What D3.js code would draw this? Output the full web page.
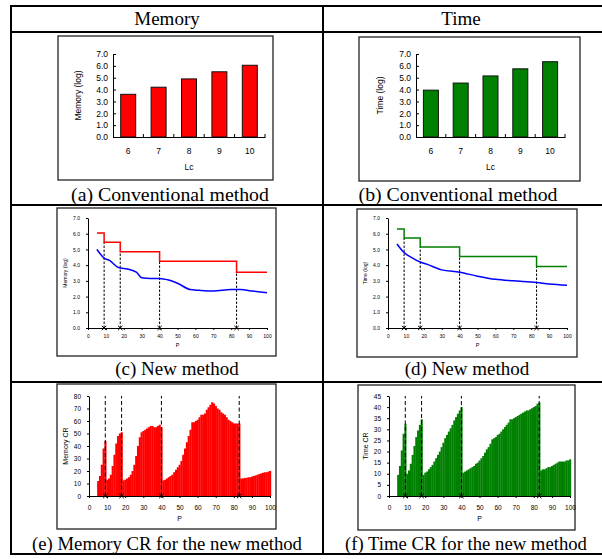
<!DOCTYPE html>
<html>
<head>
<meta charset="utf-8">
<script src="https://cdn.jsdelivr.net/npm/d3@7"></script>
<style>
body { margin: 0; background: #fff; }
</style>
</head>
<body>
<div id="chart"></div>
<script>
// ---- data ----
var lcValues = [6, 7, 8, 9, 10];
var memConv = [3.6, 4.2, 4.9, 5.5, 6.05];
var timeConv = [3.95, 4.55, 5.15, 5.75, 6.35];

var splitP = [9, 18, 40, 83];
var stepP = [5, 9, 18, 40, 83, 100];
var memStep = [6.05, 5.45, 4.85, 4.25, 3.55, 3.55];
var timeStep = [6.3, 5.72, 5.15, 4.55, 3.92, 3.92];

var memCurveP = [5, 9, 12, 17, 22, 27, 30, 35, 40, 45, 50, 57, 62, 70, 80, 85, 92, 100];
var memCurve = [5.0, 4.45, 4.3, 3.85, 3.75, 3.55, 3.2, 3.15, 3.15, 3.05, 2.85, 2.45, 2.4, 2.35, 2.45, 2.45, 2.35, 2.25];
var timeCurveP = [5, 9, 13, 18, 22, 30, 40, 50, 60, 70, 83, 90, 100];
var timeCurve = [5.35, 4.8, 4.5, 4.2, 4.05, 3.7, 3.55, 3.3, 3.1, 3.0, 2.9, 2.8, 2.72];

var crP = d3.range(5, 101); // P = 5 .. 100
var memCR = [12, 16, 25, 38, 44,
  13, 14, 17, 24, 33, 42, 48, 50, 51,
  12.5, 13, 14, 15, 17, 20, 25, 32, 40, 47, 51, 52, 53, 54, 55, 56, 56, 55, 55, 56, 57, 55,
  12.5, 13, 14, 15, 16, 17, 19, 21, 23, 25,
  28, 33, 38, 43, 48, 53, 59, 59, 60, 61,
  63, 65, 65, 66, 69, 71, 73, 75, 74, 72,
  70, 69, 67, 66, 65, 63, 61, 60, 59, 58,
  58, 58, 58,
  14, 14, 14.5, 14.5, 15, 15, 15.5, 16, 16.5, 17, 17.5, 18, 18.5, 19, 19, 19.5, 20];
var timeCR = [9.5, 13.5, 20.5, 28, 32.5,
  10, 11.5, 14.5, 18.5, 22.5, 26.5, 29.5, 32, 34.5,
  9.5, 10.5, 11, 12, 13, 14, 15.5, 17, 18.5, 20, 22, 24, 26, 27.5, 29, 30.5, 32, 34, 35.5, 37, 38.5, 40,
  10.5, 11, 11.5, 12, 12.5, 13, 13.5, 14.5, 15, 16,
  17, 18, 19.5, 21, 22, 23.5, 25.5, 26, 26.5, 27.5,
  28, 29, 30, 31, 32, 33, 34.5, 34.5, 35, 35.5,
  36, 36.5, 37, 37.5, 38, 38.5, 38.5, 39, 39.5, 40,
  40.5, 41.5, 42,
  11.5, 12, 12, 12.5, 13, 13, 13.5, 14, 14.5, 15, 15.5, 15.5, 15.5, 15.5, 16, 16, 16.5];

var headers = ["Memory", "Time"];
var captions = ["(a) Conventional method", "(b) Conventional method",
  "(c) New method", "(d) New method",
  "(e) Memory CR for the new method", "(f) Time CR for the new method"];

// ---- page ----
var W = 602, H = 559;
var sans = "'Liberation Sans', Arial, sans-serif";
var serif = "'Liberation Serif', 'Times New Roman', serif";

var svg = d3.select("#chart").append("svg")
  .attr("width", W).attr("height", H);

// table grid
var tbl = { left: 11, right: 603, mid: 323, rows: [6, 32, 205, 382, 554] };
var grid = svg.append("g").attr("stroke", "#000").attr("stroke-width", 2);
tbl.rows.forEach(function (y) {
  grid.append("line").attr("x1", tbl.left - 1).attr("x2", tbl.right).attr("y1", y).attr("y2", y);
});
[tbl.left, tbl.mid, tbl.right].forEach(function (x) {
  grid.append("line").attr("x1", x).attr("x2", x).attr("y1", tbl.rows[0]).attr("y2", tbl.rows[4]);
});

svg.selectAll(".hdr").data(headers).enter().append("text")
  .attr("x", function (d, i) { return i ? 461 : 167; })
  .attr("y", 25)
  .attr("text-anchor", "middle")
  .style("font-family", serif).style("font-size", "19px")
  .text(function (d) { return d; });

// x, baseline, font size
var capPos = [[170, 201, 19.8], [458, 201, 19.8], [177, 375, 19], [467, 375, 19],
  [167, 550, 18.7], [466, 550, 18.7]];
svg.selectAll(".cap").data(captions).enter().append("text")
  .attr("x", function (d, i) { return capPos[i][0]; })
  .attr("y", function (d, i) { return capPos[i][1]; })
  .attr("text-anchor", "middle")
  .style("font-family", serif)
  .style("font-size", function (d, i) { return capPos[i][2] + "px"; })
  .text(function (d) { return d; });

function frame(x0, y0, x1, y1) {
  svg.append("rect")
    .attr("x", x0).attr("y", y0).attr("width", x1 - x0).attr("height", y1 - y0)
    .attr("fill", "#fff").attr("stroke", "#222").attr("stroke-width", 1.3);
}

function styleAxis(g, fs) {
  g.select(".domain").attr("stroke", "#000");
  g.selectAll(".tick line").attr("stroke", "#000");
  g.selectAll("text").style("font-family", sans).style("font-size", fs + "px").attr("fill", "#000");
}

function yTitle(x, y, txt, fs) {
  svg.append("text")
    .attr("transform", "translate(" + x + "," + y + ") rotate(-90)")
    .attr("text-anchor", "middle")
    .style("font-family", sans).style("font-size", fs + "px")
    .text(txt);
}

function xTitle(x, y, txt, fs) {
  svg.append("text").attr("x", x).attr("y", y).attr("text-anchor", "middle")
    .style("font-family", sans).style("font-size", fs + "px").text(txt);
}

// ---- (a)/(b) conventional bars ----
function barPanel(o) {
  frame(o.frame[0], o.frame[1], o.frame[2], o.frame[3]);
  var x = d3.scaleBand().domain(lcValues).range(o.xr);
  var y = d3.scaleLinear().domain([0, 7]).range(o.yr);
  var g = svg.append("g");

  g.selectAll("rect.bar").data(o.values).enter().append("rect")
    .attr("class", "bar")
    .attr("x", function (d, i) { return x(lcValues[i]) + x.bandwidth() / 2 - 7.5; })
    .attr("width", 15)
    .attr("y", function (d) { return y(d); })
    .attr("height", function (d) { return y(0) - y(d); })
    .attr("fill", o.color).attr("stroke", "#111").attr("stroke-width", 1);

  var ya = g.append("g").attr("transform", "translate(" + o.xr[0] + ",0)")
    .call(d3.axisLeft(y).tickValues(d3.range(0, 7.5, 1)).tickFormat(d3.format(".1f"))
      .tickSizeInner(-3).tickSizeOuter(0).tickPadding(5));
  styleAxis(ya, 8.5);

  var xa = g.append("g").attr("transform", "translate(0," + o.yr[0] + ")")
    .call(d3.axisBottom(x).tickSize(0).tickPadding(11));
  styleAxis(xa, 8.5);
  // small boundary ticks
  g.selectAll("line.bt").data(lcValues.slice(1).concat(["end"])).enter().append("line")
    .attr("x1", function (d) { return d === "end" ? o.xr[1] : x(d); })
    .attr("x2", function (d) { return d === "end" ? o.xr[1] : x(d); })
    .attr("y1", o.yr[0]).attr("y2", o.yr[0] - 3).attr("stroke", "#000");

  yTitle(o.ytx, (o.yr[0] + o.yr[1]) / 2, o.ylabel, 8.5);
  xTitle((o.xr[0] + o.xr[1]) / 2, o.yr[0] + 33, "Lc", 8.5);
}

barPanel({ frame: [58, 36, 273, 180], xr: [113, 265], yr: [137, 54], values: memConv,
  color: "#ff0000", ylabel: "Memory (log)", ytx: 81 });
barPanel({ frame: [359, 37, 580, 181], xr: [416, 565], yr: [137, 54], values: timeConv,
  color: "#008000", ylabel: "Time (log)", ytx: 383 });

// ---- (c)/(d) new method lines ----
function xMarks(g, x, y0) {
  g.selectAll("path.mk").data(splitP).enter().append("path")
    .attr("d", d3.symbol(d3.symbolX, 14))
    .attr("transform", function (d) { return "translate(" + x(d) + "," + y0 + ")"; })
    .attr("stroke", "#000").attr("stroke-width", 1).attr("fill", "none");
}

function linePanel(o) {
  frame(o.frame[0], o.frame[1], o.frame[2], o.frame[3]);
  var x = d3.scaleLinear().domain([0, 100]).range(o.xr);
  var y = d3.scaleLinear().domain([0, 7]).range(o.yr);
  var g = svg.append("g");

  var ya = g.append("g").attr("transform", "translate(" + o.xr[0] + ",0)")
    .call(d3.axisLeft(y).tickValues(d3.range(0, 7.5, 1)).tickFormat(d3.format(".1f"))
      .tickSizeInner(2).tickSizeOuter(0).tickPadding(6));
  styleAxis(ya, 5);
  var xa = g.append("g").attr("transform", "translate(0," + o.yr[0] + ")")
    .call(d3.axisBottom(x).tickValues(d3.range(0, 101, 10)).tickSizeInner(2).tickSizeOuter(0).tickPadding(4));
  styleAxis(xa, 5);

  // dashed split lines up to the new step level
  g.selectAll("line.sp").data(splitP).enter().append("line")
    .attr("x1", function (d) { return x(d); }).attr("x2", function (d) { return x(d); })
    .attr("y1", y(0))
    .attr("y2", function (d) { return y(o.step[stepP.indexOf(d)]); })
    .attr("stroke", "#000").attr("stroke-width", 1).attr("stroke-dasharray", "2.5,1.5");

  var stepLine = d3.line().curve(d3.curveStepAfter)
    .x(function (d, i) { return x(stepP[i]); }).y(function (d) { return y(d); });
  g.append("path").attr("d", stepLine(o.step))
    .attr("fill", "none").attr("stroke", o.color).attr("stroke-width", 1.5);

  var curve = d3.line().curve(d3.curveMonotoneX)
    .x(function (d, i) { return x(o.curveP[i]); }).y(function (d) { return y(d); });
  g.append("path").attr("d", curve(o.curve))
    .attr("fill", "none").attr("stroke", "#0000ff").attr("stroke-width", 1.5);

  xMarks(g, x, y(0));
  yTitle(o.ytx, (o.yr[0] + o.yr[1]) / 2, o.ylabel, 5);
  xTitle((o.xr[0] + o.xr[1]) / 2, o.yr[0] + 19, "P", 5.5);
}

linePanel({ frame: [57, 208, 276, 356], xr: [88, 267], yr: [328, 218], step: memStep,
  color: "#ff0000", curveP: memCurveP, curve: memCurve, ylabel: "Memory (log)", ytx: 67 });
linePanel({ frame: [357, 209, 577, 357], xr: [388, 567], yr: [328, 218], step: timeStep,
  color: "#008000", curveP: timeCurveP, curve: timeCurve, ylabel: "Time (log)", ytx: 367 });

// ---- (e)/(f) compression ratio bars ----
function crPanel(o) {
  frame(o.frame[0], o.frame[1], o.frame[2], o.frame[3]);
  var x = d3.scaleLinear().domain([0, 100]).range(o.xr);
  var y = d3.scaleLinear().domain([0, o.ymax]).range(o.yr);
  var g = svg.append("g");

  g.selectAll("rect.cr").data(o.values).enter().append("rect")
    .attr("x", function (d, i) { return x(crP[i] - 0.5); })
    .attr("width", x(1) - x(0) + 0.3)
    .attr("y", function (d) { return y(d); })
    .attr("height", function (d) { return y(0) - y(d); })
    .attr("fill", o.color);

  var ya = g.append("g").attr("transform", "translate(" + o.xr[0] + ",0)")
    .call(d3.axisLeft(y).tickValues(d3.range(0, o.ymax + 1, o.step))
      .tickSizeInner(2).tickSizeOuter(0).tickPadding(6));
  styleAxis(ya, 6.5);
  var xa = g.append("g").attr("transform", "translate(0," + o.yr[0] + ")")
    .call(d3.axisBottom(x).tickValues(d3.range(0, 101, 10)).tickSizeInner(2).tickSizeOuter(0).tickPadding(7));
  styleAxis(xa, 6.5);

  g.selectAll("line.sp").data(splitP).enter().append("line")
    .attr("x1", function (d) { return x(d); }).attr("x2", function (d) { return x(d); })
    .attr("y1", y(0)).attr("y2", y(o.ymax))
    .attr("stroke", "#000").attr("stroke-width", 1).attr("stroke-dasharray", "4,2.5");

  xMarks(g, x, y(0));
  yTitle(o.ytx, (o.yr[0] + o.yr[1]) / 2, o.ylabel, 7);
  xTitle((o.xr[0] + o.xr[1]) / 2, o.yr[0] + 25, "P", 7);
}

crPanel({ frame: [57, 384, 276, 529], xr: [89, 270], yr: [496, 396], ymax: 80, step: 10,
  values: memCR, color: "#ff0000", ylabel: "Memory CR", ytx: 68 });
crPanel({ frame: [358, 385, 575, 530], xr: [389, 570], yr: [496, 396], ymax: 45, step: 5,
  values: timeCR, color: "#008000", ylabel: "Time CR", ytx: 368 });
</script>
</body>
</html>
